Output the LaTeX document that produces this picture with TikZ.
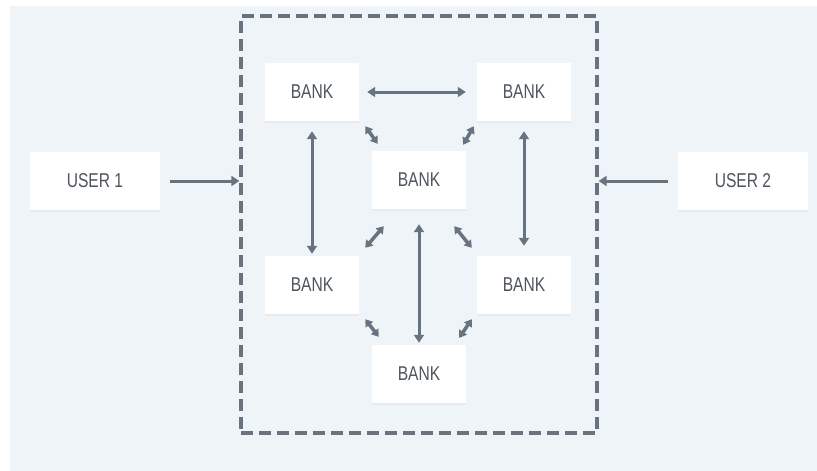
\documentclass[tikz,border=0pt]{standalone}
\usepackage{fontspec}
\setmainfont{Liberation Sans}[FakeStretch=0.78]
\usetikzlibrary{arrows.meta,shadows}
\definecolor{bgcol}{HTML}{EFF4F9}
\definecolor{linecol}{HTML}{67737F}
\definecolor{textcol}{HTML}{4E555E}

\begin{document}
\begin{tikzpicture}[x=1pt, y=-1pt,
    box/.style={fill=white, text=textcol, inner sep=0pt,
        minimum width=94, minimum height=58,
        font=\fontsize{20}{20}\selectfont,
        drop shadow={opacity=0.07, shadow xshift=0pt, shadow yshift=-1.5pt}},
    link/.style={draw=linecol, line width=3,
        {Triangle[length=8,width=10]}-{Triangle[length=8,width=10]}},
    feed/.style={draw=linecol, line width=3, -{Triangle[length=8,width=10]}},
    diag/.style={draw=linecol, line width=3.5,
        {Triangle[length=7,width=9]}-{Triangle[length=7,width=9]}}]

    % background
    \useasboundingbox (0,0) rectangle (817,471);
    \fill[white] (0,0) rectangle (817,471);
    \fill[bgcol] (10,6) rectangle (817,471);

    % the network of banks
    \node[draw=linecol, line width=3.3, dash pattern=on 12pt off 6pt,
        minimum width=356, minimum height=417] (net) at (419,224.5) {};

    \node[box] (tl) at (312,92) {BANK};
    \node[box] (tr) at (524,92) {BANK};
    \node[box] (c) at (419,180) {BANK};
    \node[box] (ml) at (312,285) {BANK};
    \node[box] (mr) at (524,285) {BANK};
    \node[box] (bt) at (419,374) {BANK};

    % users outside
    \node[box, minimum width=130] (u1) at (95,181) {USER 1};
    \node[box, minimum width=130] (u2) at (743,181) {USER 2};

    \draw[feed, shorten <=10pt] (u1.east) -- (u1 -| net.west);
    \draw[feed, shorten <=10pt] (u2.west) -- (u2 -| net.east);

    % long links
    \draw[link, shorten <=8pt, shorten >=11pt] (tl.east) -- (tr.west);
    \draw[link, shorten <=10pt, shorten >=2pt] (tl.south) -- (ml.north);
    \draw[link, shorten <=10pt, shorten >=10pt] (tr.south) -- (mr.north);
    \draw[link, shorten <=15pt, shorten >=2pt] (c.south) -- (bt.north);

    % short links to the middle bank
    \draw[diag] ([shift={(6,5)}]tl.south east) -- ([shift={(6,-7)}]c.north west);
    \draw[diag] ([shift={(-3,5)}]tr.south west) -- ([shift={(-3,-6)}]c.north east);
    \draw[diag] ([shift={(6,-8)}]ml.north east) -- ([shift={(12,17)}]c.south west);
    \draw[diag] ([shift={(-12,17)}]c.south east) -- ([shift={(-5,-8)}]mr.north west);

    % short links to the bottom bank
    \draw[diag] ([shift={(6,5)}]ml.south east) -- ([shift={(7,-8)}]bt.north west);
    \draw[diag] ([shift={(-5,5)}]mr.south west) -- ([shift={(-7,-7)}]bt.north east);
\end{tikzpicture}
\end{document}
